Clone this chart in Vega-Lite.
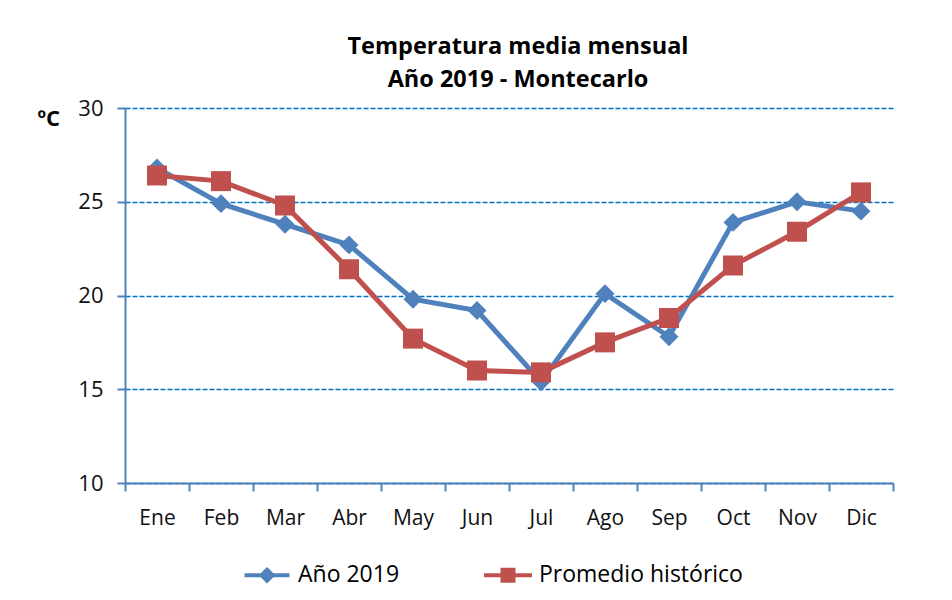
{
  "$schema": "https://vega.github.io/schema/vega-lite/v6.json",
  "width": 768,
  "height": 375,
  "autosize": {"type": "none"},
  "padding": {"left": 125, "top": 108, "right": 59, "bottom": 117},
  "background": "white",
  "config": {
    "font": "Open Sans",
    "view": {"stroke": null}
  },
  "title": {
    "text": ["Temperatura media mensual", "Año 2019 - Montecarlo"],
    "fontSize": 23.5,
    "fontWeight": "bold",
    "font": "Open Sans",
    "color": "#000000",
    "lineHeight": 33,
    "offset": 6,
    "dx": 9
  },
  "data": {
    "values": [
      {"mes": "Ene", "serie": "Año 2019", "temp": 26.8},
      {"mes": "Feb", "serie": "Año 2019", "temp": 24.9},
      {"mes": "Mar", "serie": "Año 2019", "temp": 23.8},
      {"mes": "Abr", "serie": "Año 2019", "temp": 22.7},
      {"mes": "May", "serie": "Año 2019", "temp": 19.8},
      {"mes": "Jun", "serie": "Año 2019", "temp": 19.2},
      {"mes": "Jul", "serie": "Año 2019", "temp": 15.4},
      {"mes": "Ago", "serie": "Año 2019", "temp": 20.1},
      {"mes": "Sep", "serie": "Año 2019", "temp": 17.8},
      {"mes": "Oct", "serie": "Año 2019", "temp": 23.9},
      {"mes": "Nov", "serie": "Año 2019", "temp": 25.0},
      {"mes": "Dic", "serie": "Año 2019", "temp": 24.5},
      {"mes": "Ene", "serie": "Promedio histórico", "temp": 26.4},
      {"mes": "Feb", "serie": "Promedio histórico", "temp": 26.1},
      {"mes": "Mar", "serie": "Promedio histórico", "temp": 24.8},
      {"mes": "Abr", "serie": "Promedio histórico", "temp": 21.4},
      {"mes": "May", "serie": "Promedio histórico", "temp": 17.7},
      {"mes": "Jun", "serie": "Promedio histórico", "temp": 16.0},
      {"mes": "Jul", "serie": "Promedio histórico", "temp": 15.9},
      {"mes": "Ago", "serie": "Promedio histórico", "temp": 17.5},
      {"mes": "Sep", "serie": "Promedio histórico", "temp": 18.8},
      {"mes": "Oct", "serie": "Promedio histórico", "temp": 21.6},
      {"mes": "Nov", "serie": "Promedio histórico", "temp": 23.4},
      {"mes": "Dic", "serie": "Promedio histórico", "temp": 25.5}
    ]
  },
  "encoding": {
    "x": {
      "field": "mes",
      "type": "ordinal",
      "sort": ["Ene", "Feb", "Mar", "Abr", "May", "Jun", "Jul", "Ago", "Sep", "Oct", "Nov", "Dic"],
      "scale": {"paddingInner": 0, "paddingOuter": 0},
      "axis": {
        "title": null,
        "labelAngle": 0,
        "labelFontSize": 21,
        "labelColor": "#111111",
        "labelPadding": 16,
        "tickBand": "extent",
        "tickSize": 8,
        "tickColor": "#4F81BD",
        "tickWidth": 2,
        "domainColor": "#4F81BD",
        "domainWidth": 2,
        "grid": false
      }
    },
    "y": {
      "field": "temp",
      "type": "quantitative",
      "scale": {"domain": [10, 30], "nice": false, "zero": false},
      "axis": {
        "values": [10, 15, 20, 25, 30],
        "title": "ºC",
        "titleAngle": 0,
        "titleFontSize": 22,
        "titleFontWeight": "bold",
        "titleColor": "#000000",
        "titleAlign": "left",
        "titleBaseline": "middle",
        "titleX": -88,
        "titleY": 10,
        "labelFontSize": 22,
        "labelColor": "#111111",
        "labelPadding": 14,
        "tickSize": 8,
        "tickColor": "#4F81BD",
        "tickWidth": 2,
        "domainColor": "#4F81BD",
        "domainWidth": 2,
        "grid": true,
        "gridColor": "#0070C0",
        "gridWidth": 1.5,
        "gridDash": [5, 2]
      }
    },
    "color": {
      "field": "serie",
      "type": "nominal",
      "scale": {"domain": ["Año 2019", "Promedio histórico"], "range": ["#4F81BD", "#C0504D"]},
      "legend": {
        "title": null,
        "orient": "none",
        "direction": "horizontal",
        "legendX": 130,
        "legendY": 455,
        "labelFontSize": 23,
        "labelColor": "#000000",
        "labelLimit": 400,
        "labelOffset": 19,
        "symbolSize": 400,
        "columnPadding": 76,
        "encode": {
          "symbols": {
            "update": {
              "shape": {"signal": "datum.value === 'Año 2019' ? 'M-2.25,0L2.25,0M0,-0.55L0.55,0L0,0.55L-0.55,0Z' : 'M-2.4,0L2.4,0M-0.55,-0.55L0.55,-0.55L0.55,0.55L-0.55,0.55Z'"},
              "fill": {"signal": "scale('color', datum.value)"},
              "stroke": {"signal": "scale('color', datum.value)"},
              "strokeWidth": {"value": 4},
              "opacity": {"value": 1},
              "fillOpacity": {"value": 1}
            }
          }
        }
      }
    }
  },
  "layer": [
    {
      "mark": {"type": "line", "strokeWidth": 5},
      "encoding": {"detail": {"field": "serie"}}
    },
    {
      "transform": [{"filter": "datum.serie === 'Año 2019'"}],
      "mark": {"type": "point", "filled": true, "opacity": 1, "shape": "diamond", "size": 360}
    },
    {
      "transform": [{"filter": "datum.serie !== 'Año 2019'"}],
      "mark": {"type": "point", "filled": true, "opacity": 1, "shape": "square", "size": 400}
    }
  ]
}
